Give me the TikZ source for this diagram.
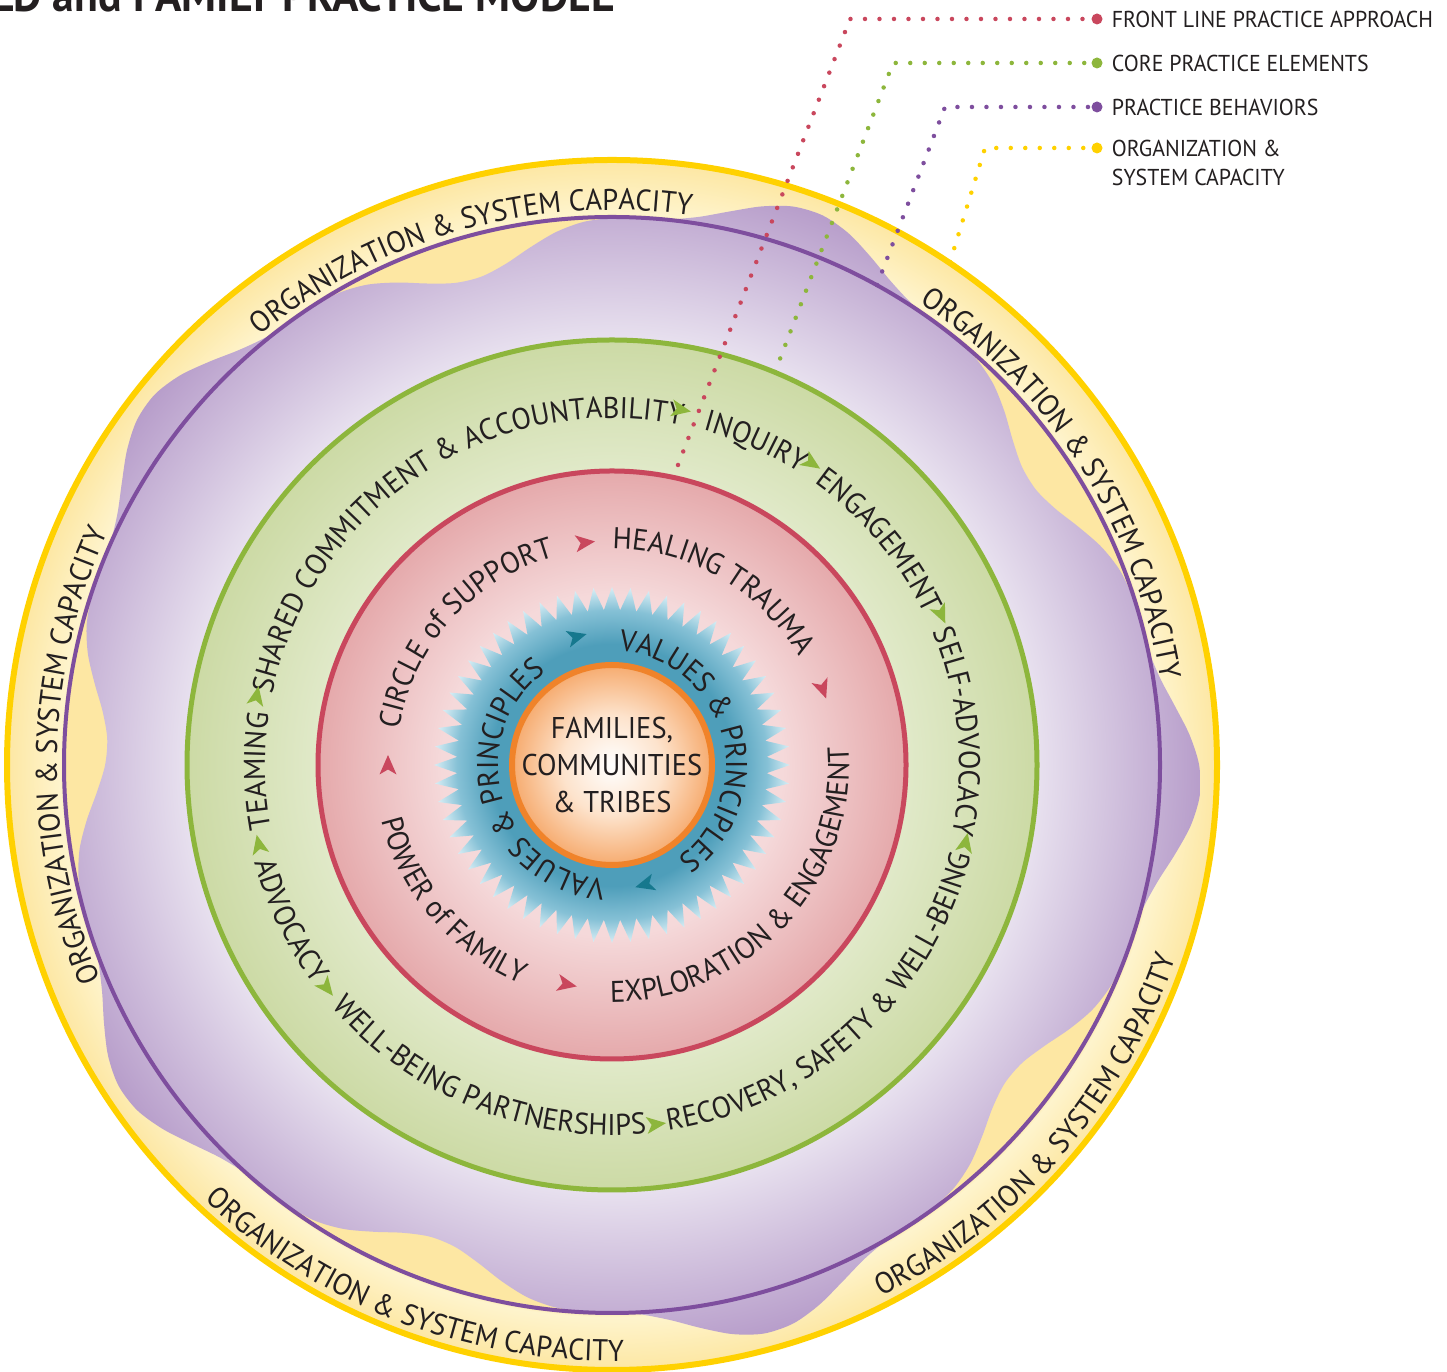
\documentclass[tikz,border=0pt]{standalone}
\usepackage{fontspec}
\usepackage{xcolor}
\usepackage{tikz}
\usetikzlibrary{decorations.text,positioning}
\newfontfamily\ringfont[FakeStretch=0.95]{PT Sans}
\definecolor{ink}{HTML}{231F20}
\definecolor{c1}{HTML}{FFD100}
\definecolor{c2}{HTML}{7E4E9E}
\definecolor{c3}{HTML}{8DB63C}
\definecolor{c4}{HTML}{C9475D}
\definecolor{c5}{HTML}{F0832A}
\definecolor{c6}{HTML}{16788E}
\definecolor{y1}{HTML}{FEF4CD}
\definecolor{y2}{HTML}{FDE7A3}
\definecolor{p1}{HTML}{E8E1EF}
\definecolor{p2}{HTML}{B79DCA}
\definecolor{g1}{HTML}{E0E9C8}
\definecolor{g2}{HTML}{CCDAA5}
\definecolor{r1}{HTML}{F5D9DA}
\definecolor{r2}{HTML}{E5A9AB}
\definecolor{b1}{HTML}{4E9EBA}
\definecolor{b3}{HTML}{86C1D6}
\definecolor{b2}{HTML}{D8EEF5}
\definecolor{o1}{HTML}{FDE3CC}
\definecolor{o2}{HTML}{F6AB6F}

% 25bp is the rim of the shaded shape
\pgfdeclareradialshading{yellowfill}{\pgfpoint{0bp}{0bp}}{color(0bp)=(y2); color(22.6bp)=(y2); color(22.8bp)=(y1); color(25bp)=(y2); color(50bp)=(y2)}
\pgfdeclareradialshading{purplefill}{\pgfpoint{0bp}{0bp}}{color(0bp)=(p1); color(18bp)=(p1); color(25bp)=(p2); color(50bp)=(p2)}
\pgfdeclareradialshading{greenfill}{\pgfpoint{0bp}{0bp}}{color(0bp)=(g1); color(17.5bp)=(g1); color(25bp)=(g2); color(50bp)=(g2)}
\pgfdeclareradialshading{redfill}{\pgfpoint{0bp}{0bp}}{color(0bp)=(r1); color(14.5bp)=(r1); color(25bp)=(r2); color(50bp)=(r2)}
\pgfdeclareradialshading{bluefill}{\pgfpoint{0bp}{0bp}}{color(0bp)=(b1); color(17bp)=(b1); color(21.8bp)=(b3); color(25bp)=(b2); color(50bp)=(b2)}
\pgfdeclareradialshading{orangefill}{\pgfpoint{0bp}{0bp}}{color(0bp)=(white); color(12.5bp)=(o1); color(25bp)=(o2); color(50bp)=(o2)}

\newcommand\ringsize{\ringfont\fontsize{30}{37}\selectfont}
% text on a circle round (hub): centre angle, baseline radius, text
\newcommand\cwtext[3]{\path[decorate,decoration={text along path,text align=center,text={|\ringsize\color{ink}|#3}}] (hub) ++({#1+80}:#2) arc[start angle={#1+80},end angle={#1-80},radius=#2];}
\newcommand\ccwtext[3]{\path[decorate,decoration={text along path,text align=center,text={|\ringsize\color{ink}|#3}}] (hub) ++({#1-80}:#2) arc[start angle={#1-80},end angle={#1+80},radius=#2];}
% arrow head on a ring: angle, radius, turn (-90 clockwise, 90 anticlockwise), colour
\newcommand\ringarrow[4]{\fill[#4,shift={(hub)},rotate=#1,shift={(#2,0)},rotate=#3] (10,0) -- (-9.5,8.5) -- (-4.5,0) -- (-9.5,-8.5) -- cycle;}

\tikzset{dots/.style={line width=4.5pt,line cap=round,dash pattern=on 0pt off 14.5pt},
  bigdot/.style={circle,inner sep=0pt,minimum size=11pt},
  legend/.style={font=\ringfont\fontsize{23}{29}\selectfont,text=ink,inner sep=0pt,align=left}}

\begin{document}
\begin{tikzpicture}[x=1pt,y=1pt]
\useasboundingbox (0,0) rectangle (1447,1372);
\clip (0,0) rectangle (1447,1372);
\coordinate (hub) at (612,607);

% outer band and wavy blob
\shade[shading=yellowfill] (hub) circle (605);
\begin{scope}
  \clip[shift={(hub)}] plot[smooth cycle,samples=120,domain=0:357,variable=\t] (\t:{547+31.5*cos(5*(\t-70))+10.5*cos(15*(\t-70))});
  \shade[shading=purplefill] (hub) circle (590);
\end{scope}
\draw[c2,line width=4pt] (hub) circle (548);
\draw[c1,line width=6pt] (hub) circle (605);

% rings
\shade[shading=greenfill] (hub) circle (425);
\draw[c3,line width=5pt] (hub) circle (425);
\shade[shading=redfill] (hub) circle (294);
\draw[c4,line width=5pt] (hub) circle (294);
\shade[shading=bluefill,shift={(hub)}] plot[sharp cycle,samples=120,domain=0:119,variable=\i] ({\i*3}:{178-23*mod(\i,2)});
\shade[shading=orangefill] (hub) circle (100);
\draw[c5,line width=6pt] (hub) circle (100);
\node[align=center,font=\ringsize,text=ink] (core) at (hub) {FAMILIES,\\COMMUNITIES\\\& TRIBES};

% outer band
\foreach \a in {105.6,32.6,179} {\cwtext{\a}{555}{ORGANIZATION {\&} SYSTEM CAPACITY}}
\foreach \a in {249,319} {\ccwtext{\a}{596}{ORGANIZATION {\&} SYSTEM CAPACITY}}

% green ring
\cwtext{181}{347}{TEAMING}
\cwtext{123.3}{347}{SHARED COMMITMENT {\&} ACCOUNTABILITY}
\cwtext{66}{347}{INQUIRY}
\cwtext{40}{347}{ENGAGEMENT}
\cwtext{5.5}{347}{SELF-ADVOCACY}
\ccwtext{205.8}{370}{ADVOCACY}
\ccwtext{248}{370}{WELL-BEING PARTNERSHIPS}
\ccwtext{312.3}{370}{RECOVERY, SAFETY {\&} WELL-BEING}
\foreach \a/\d in {79/-90,56.5/-90,24.6/-90,347.6/90,277/90,218/90,192.7/-90,169/-90} {\ringarrow{\a}{362}{\d}{c3}}

% red ring
\cwtext{138}{216}{CIRCLE of SUPPORT}
\cwtext{60}{216}{HEALING TRAUMA}
\ccwtext{317}{237}{EXPLORATION {\&} ENGAGEMENT}
\ccwtext{220.5}{237}{POWER of FAMILY}
\foreach \a/\d in {96.9/-90,19.8/-90,258.4/90,180/-90} {\ringarrow{\a}{224}{\d}{c4}}

% blue star
\cwtext{16}{114}{VALUES {\&} PRINCIPLES}
\cwtext{196}{114}{VALUES {\&} PRINCIPLES}
\ringarrow{105.3}{133}{-90}{c6}
\ringarrow{285.4}{124}{-90}{c6}

% legend
\node[bigdot,fill=c4] (fl-dot) at (1097,1353) {};
\node[legend,right=9pt of fl-dot] (fl-text) {FRONT LINE PRACTICE APPROACH};
\node[bigdot,fill=c3] (ce-dot) at (1097,1309) {};
\node[legend,right=9pt of ce-dot] (ce-text) {CORE PRACTICE ELEMENTS};
\node[bigdot,fill=c2] (pb-dot) at (1097,1265) {};
\node[legend,right=9pt of pb-dot] (pb-text) {PRACTICE BEHAVIORS};
\node[bigdot,fill=c1] (oc-dot) at (1097,1224) {};
\node[legend,right=9pt of oc-dot,anchor=north west,yshift=8.4pt] (oc-text) {ORGANIZATION \&\\SYSTEM CAPACITY};
\coordinate (fl-start) at (678,907);
\coordinate (fl-bend) at (850,1353);
\coordinate (ce-start) at (775,1000);
\coordinate (ce-bend) at (893,1309);
\coordinate (pb-start) at (877,1087);
\coordinate (pb-bend) at (945,1265);
\coordinate (oc-start) at (950,1110);
\coordinate (oc-bend) at (985,1224);
\draw[dots,c4] (fl-start) -- (fl-bend) -- (fl-dot);
\draw[dots,c3] (ce-start) -- (ce-bend) -- (ce-dot);
\draw[dots,c2] (pb-start) -- (pb-bend) -- (pb-dot);
\draw[dots,c1] (oc-start) -- (oc-bend) -- (oc-dot);

% title, cut by the page
\node[anchor=base west,inner sep=0pt,text=ink,font=\ringfont\bfseries\fontsize{46}{50}\selectfont] (title) at (-9,1360) {LD and FAMILY PRACTICE MODEL};
\end{tikzpicture}
\end{document}
